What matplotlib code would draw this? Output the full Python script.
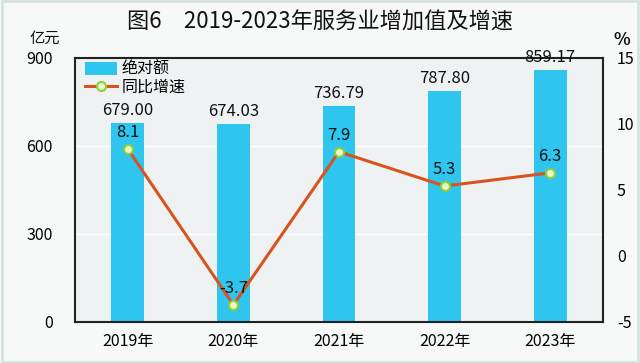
import matplotlib
matplotlib.use("Agg")
import matplotlib.pyplot as plt
from matplotlib.patches import Rectangle

plt.rcParams['font.family'] = ['Noto Sans CJK SC', 'DejaVu Sans']
plt.rcParams['axes.unicode_minus'] = False

years = ['2019年', '2020年', '2021年', '2022年', '2023年']
values = [679.00, 674.03, 736.79, 787.80, 859.17]
growth = [8.1, -3.7, 7.9, 5.3, 6.3]
value_labels = ['679.00', '674.03', '736.79', '787.80', '859.17']
growth_labels = ['8.1', '-3.7', '7.9', '5.3', '6.3']

fig = plt.figure(figsize=(6.4, 3.63), dpi=100)
fig.patch.set_facecolor('#f7f9f9')
fig.add_artist(Rectangle((0.003, 0.004), 0.994, 0.992, transform=fig.transFigure,
                         fill=False, edgecolor='#d5e3e0', linewidth=2))

ax = fig.add_axes([75/640, 1-322/363, 528/640, 264/363])
ax.set_facecolor('#eef2f2')
x = list(range(len(years)))
bars = ax.bar(x, values, width=0.31, color='#2ec5ef', label='绝对额', zorder=2)
ax.set_xlim(-0.5, 4.5)
ax.set_ylim(0, 900)
ax.set_yticks([0, 300, 600, 900])
ax.set_xticks(x)
ax.set_xticklabels(years, fontsize=11)
ax.tick_params(axis='both', length=0, labelsize=11.5, pad=8)
ax.tick_params(axis='y', pad=16)
ax.grid(axis='y', color='white', linewidth=1, zorder=0)
for s in ax.spines.values():
    s.set_color('#222222')
    s.set_linewidth(1.5)

for xi, v, lab in zip(x, values, value_labels):
    ax.text(xi, v + 14, lab, ha='center', va='bottom', fontsize=12, color='#111111')

ax2 = ax.twinx()
ax2.set_ylim(-5, 15)
ax2.set_yticks([-5, 0, 5, 10, 15])
ax2.tick_params(axis='y', length=0, labelsize=11.5, pad=10)
for s in ax2.spines.values():
    s.set_visible(False)
line, = ax2.plot(x, growth, color='#d8541f', linewidth=2.2, marker='o', markersize=6.5,
                 markerfacecolor='#eaf7c8', markeredgecolor='#8fcf3c', markeredgewidth=1.5,
                 label='同比增速', zorder=3)
for xi, g, lab in zip(x, growth, growth_labels):
    ax2.text(xi, g + 0.6, lab, ha='center', va='bottom', fontsize=12, color='#111111')

leg = ax.legend(handles=[bars, line], loc='upper left', bbox_to_anchor=(0.0, 1.025),
                frameon=False, fontsize=11.5, handlelength=2.0, handleheight=0.8,
                handletextpad=0.3, borderaxespad=0.2, labelspacing=0.05)

fig.text(0.5, 1-22/363, '图6　2019-2023年服务业增加值及增速', ha='center', va='center',
         fontsize=16, color='#111111')
fig.text(45/640, 1-38/363, '亿元', ha='center', va='center', fontsize=11, color='#111111')
fig.text(622/640, 1-40/363, '%', ha='center', va='center', fontsize=12.5, color='#111111',
         fontweight='bold')

fig.savefig('out.png', dpi=100, facecolor=fig.get_facecolor())
